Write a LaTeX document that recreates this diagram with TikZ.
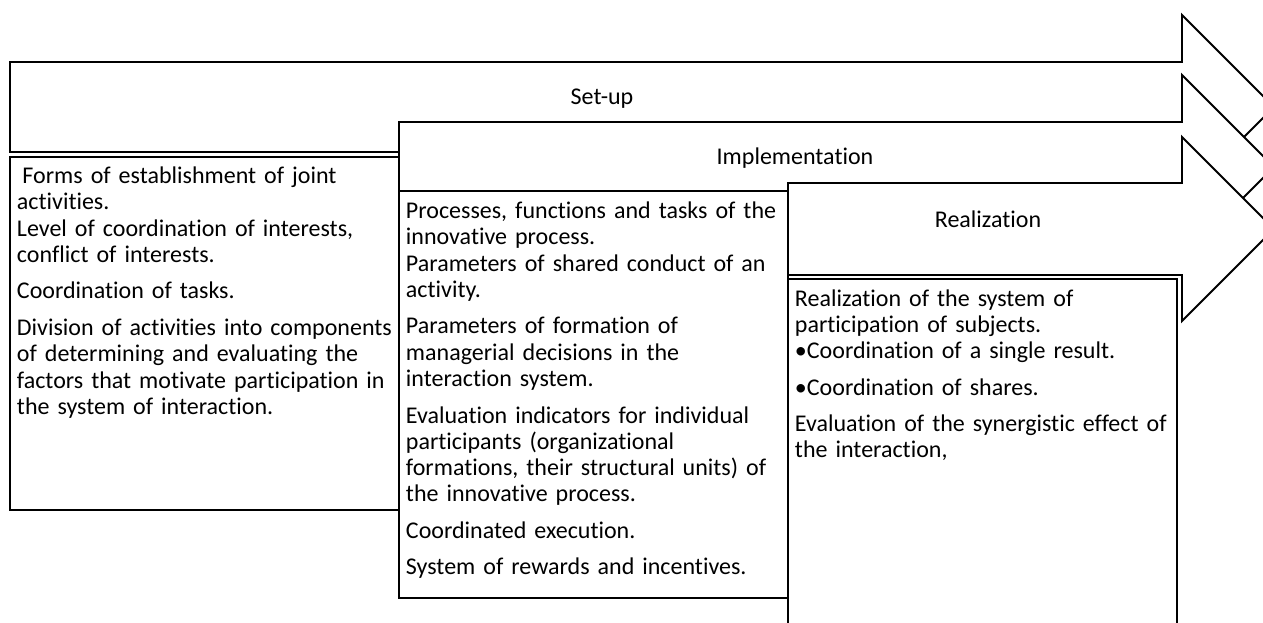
\documentclass[tikz,border=0pt]{standalone}
\usepackage{fontspec}
\setmainfont{Carlito}[Ligatures=NoCommon]
\newcommand{\boxfont}{\fontsize{13.66}{14.96}\selectfont\setlength{\parskip}{5.8pt}\setlength{\parindent}{0pt}}

\begin{document}
\begin{tikzpicture}[line width=1.1pt,
  stage/.style={draw, fill=white, line join=miter},
  panel/.style={draw, fill=white},
  stagename/.style={font=\fontsize{13.66}{14.96}\selectfont},
  paneltext/.style={anchor=north west, inner sep=0pt, text width=7.6cm, align=left, font=\boxfont}]
\useasboundingbox (0,0) rectangle (25.26,12.44);
\clip (0,0) rectangle (25.26,12.44);
% three stage arrows, each one lying over the previous one
\draw[stage] (0.2,11.2) -- (23.64,11.2) -- (23.64,12.14) -- (25.48,10.3) -- (23.64,8.46) -- (23.64,9.4) -- (0.2,9.4) -- cycle;
\draw[stage] (7.98,10.) -- (23.64,10.) -- (23.64,10.94) -- (25.48,9.1) -- (23.64,7.26) -- (23.64,8.2) -- (7.98,8.2) -- cycle;
\draw[stage] (15.76,8.78) -- (23.64,8.78) -- (23.64,9.7) -- (25.48,7.86) -- (23.64,6.02) -- (23.64,6.94) -- (15.76,6.94) -- cycle;
\node[stagename] (setup) at (12.04,10.46) {Set-up}; %label
\node[stagename] (impl) at (15.9,9.28) {Implementation}; %label
\node[stagename] (real) at (19.76,8.06) {Realization}; %label
% boxes under the arrows
\draw[panel] (0.2,9.3) rectangle (7.98,2.24);
\draw[panel] (7.98,8.62) rectangle (15.76,0.48);
\draw[panel] (15.76,6.86) rectangle (23.54,-0.2);
\node[paneltext] (setuptext) at (0.32,9.12) {\hspace*{0.23em}Forms of establishment of joint\\ activities.\\ Level of coordination of interests,\\ conflict of interests.\par
Coordination of tasks.\par
Division of activities into components\\ of determining and evaluating the\\ factors that motivate participation in\\ the system of interaction.};
\node[paneltext] (impltext) at (8.1,8.42) {Processes, functions and tasks of the\\ innovative process.\\ Parameters of shared conduct of an\\ activity.\par
Parameters of formation of\\ managerial decisions in the\\ interaction system.\par
Evaluation indicators for individual\\ participants (organizational\\ formations, their structural units) of\\ the innovative process.\par
Coordinated execution.\par
System of rewards and incentives.};
\node[paneltext] (realtext) at (15.88,6.67) {Realization of the system of\\ participation of subjects.\\ •Coordination of a single result.\par
•Coordination of shares.\par
Evaluation of the synergistic effect of\\ the interaction,};
\end{tikzpicture}
\end{document}
